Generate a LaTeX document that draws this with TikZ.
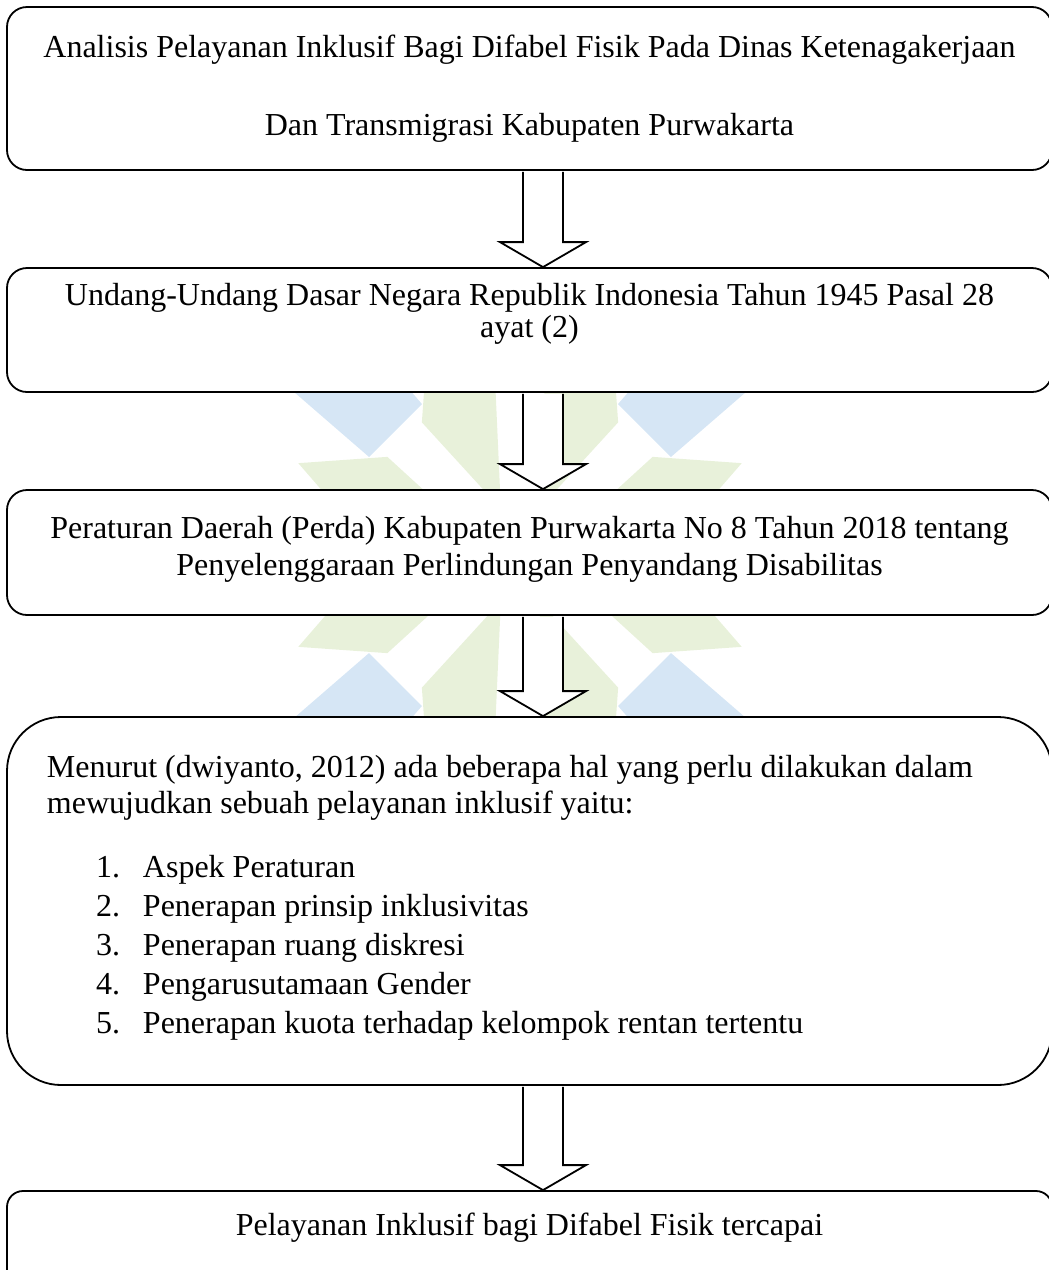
\documentclass[tikz,border=0pt]{standalone}
\usepackage{fontspec}
\setmainfont{Liberation Serif}
\usetikzlibrary{calc}
\definecolor{wmblue}{RGB}{214,230,245}
\definecolor{wmgreen}{RGB}{232,241,218}

\newcommand{\butir}[2]{\hspace*{24.5pt}\makebox[23.5pt][l]{#1.}#2}

\begin{document}
\begin{tikzpicture}[
  x=0.5pt, y=-0.5pt,
  font=\fontsize{16}{18}\selectfont,
  box/.style={draw, line width=0.9pt, fill=white, inner sep=0pt, minimum width=522.5pt},
  blockarrow/.style={draw, line width=0.9pt, fill=white, line join=miter}
]
\useasboundingbox (0,0) rectangle (1049,1270);
\clip (0,0) rectangle (1049,1270);

% watermark
\coordinate (wm) at (520,555);
\foreach \ang in {0,45,...,315} {
  \fill[wmblue] ($(wm)+(\ang-12:180)$) -- ($(wm)+(\ang-9:290)$) -- ($(wm)+(\ang+9:290)$) -- ($(wm)+(\ang+12:180)$) -- cycle;
  \fill[wmgreen] ($(wm)+(\ang+22.5:50)$) -- ($(wm)+(\ang+8.5:165)$) -- ($(wm)+(\ang+22.5:240)$) -- ($(wm)+(\ang+36.5:165)$) -- cycle;
}

% boxes
\node[box, rounded corners=10pt] (judul) at (529.5,88.5) {\parbox[c][81.5pt][t]{522.5pt}{\centering
  \rule{0pt}{25pt}Analisis Pelayanan Inklusif Bagi Difabel Fisik Pada Dinas Ketenagakerjaan\\[21pt]
  Dan Transmigrasi Kabupaten Purwakarta}};
\node[box, rounded corners=10pt] (uud) at (529.5,330) {\parbox[c][62pt][t]{522.5pt}{\centering
  \rule{0pt}{18.5pt}Undang-Undang Dasar Negara Republik Indonesia Tahun 1945 Pasal 28\\[-2pt]
  ayat (2)}};
\node[box, rounded corners=10pt] (perda) at (529.5,552.5) {\parbox[c][62.5pt][t]{522.5pt}{\centering
  \rule{0pt}{24pt}Peraturan Daerah (Perda) Kabupaten Purwakarta No 8 Tahun 2018 tentang\\[0.5pt]
  Penyelenggaraan Perlindungan Penyandang Disabilitas}};
\node[box, rounded corners=27pt] (teori) at (529.5,901) {\parbox[c][184pt][t]{522.5pt}{\raggedright\leftskip=20pt
  \rule{0pt}{30pt}Menurut (dwiyanto, 2012) ada beberapa hal yang perlu dilakukan dalam\\
  mewujudkan sebuah pelayanan inklusif yaitu:\\[14pt]
  \butir{1}{Aspek Peraturan}\\[1.5pt]
  \butir{2}{Penerapan prinsip inklusivitas}\\[1.5pt]
  \butir{3}{Penerapan ruang diskresi}\\[1.5pt]
  \butir{4}{Pengarusutamaan Gender}\\[1.5pt]
  \butir{5}{Penerapan kuota terhadap kelompok rentan tertentu}}};
\node[box, rounded corners=8pt] (hasil) at (529.5,1241) {\parbox[c][50pt][t]{522.5pt}{\centering
  \rule{0pt}{22pt}Pelayanan Inklusif bagi Difabel Fisik tercapai}};

% block arrows
\coordinate (ax) at (543,0);
\foreach \src/\dst in {judul/uud, uud/perda, perda/teori, teori/hasil}
  \draw[blockarrow] ($(ax|-\src.south)+(-20,1)$) -- ($(ax|-\dst.north)+(-20,-25)$)
    -- ($(ax|-\dst.north)+(-43,-25)$) -- (ax|-\dst.north) -- ($(ax|-\dst.north)+(43,-25)$)
    -- ($(ax|-\dst.north)+(20,-25)$) -- ($(ax|-\src.south)+(20,1)$);
\end{tikzpicture}
\end{document}
